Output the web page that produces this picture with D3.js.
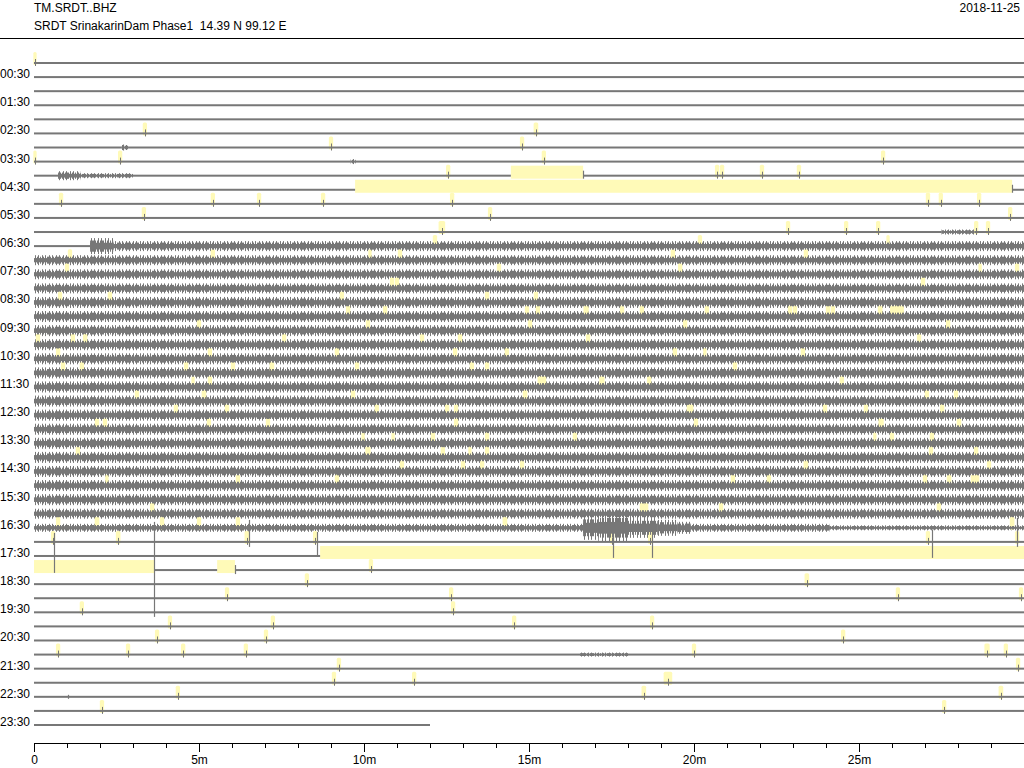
<!DOCTYPE html>
<html><head><meta charset="utf-8">
<script src="https://cdn.jsdelivr.net/npm/d3@7/dist/d3.min.js"></script>
<style>
body{margin:0;background:#fff}
text{font-family:"Liberation Sans",Arial,Helvetica,sans-serif;font-size:12px;fill:#000}
</style>
</head><body>
<svg id="c" width="1024" height="768"></svg>
<script>
// ---------- DATA ----------
const stationId = "TM.SRDT..BHZ";
const subtitle = "SRDT SrinakarinDam Phase1  14.39 N 99.12 E";
const dateLabel = "2018-11-25";
const rowLabels = ["00:30","01:30","02:30","03:30","04:30","05:30","06:30","07:30","08:30","09:30","10:30","11:30",
  "12:30","13:30","14:30","15:30","16:30","17:30","18:30","19:30","20:30","21:30","22:30","23:30"];
const xMajorTicks = [0,5,10,15,20,25];
const xTickLabels = ["0","5m","10m","15m","20m","25m"];
// base noise half-amplitude for each of the 48 half-hour rows
const baseAmp = [1,1,1,1,1,1,1,1,1,1,1,1,1,5,5,5,5,5.5,5.5,5.5,5.5,5.5,5.5,5.5,5.5,5.5,5.5,5.5,5.5,5.5,5.5,5.5,5,4,1,1,1,1,1,1,1,1,1,1,1,1,1,1];
// [row, startMin, endMin, halfAmplitude]
const ampSegments = [
  [6,2.64,2.85,2.5],[7,9.6,9.75,2.5],
  [8,0.73,1.4,4.5],[8,1.4,3.0,2.5],
  [12,27.5,28.5,2.5],
  [13,0,1.7,1],[13,1.7,2.4,8],
  [33,16.64,17.1,12],[33,17.1,18.0,14],[33,18.0,18.9,10],[33,18.9,19.5,8],[33,19.5,19.9,6],
  [33,19.9,24.1,4],[33,24.1,30,2.5],
  [42,16.55,18.0,2]
];
// [row, endMin] rows that stop early
const traceEnds = [[47,12.0]];
// data gaps [row, startMin, endMin]
const gaps = [[8,14.45,16.64],[9,9.73,29.64],[35,8.67,30],[36,0,3.64],[36,5.55,6.09]];
// event picks [row, minute, widthMin]
const picks = [
  [0,0.03,0.1],
  [5,3.36,0.13],[5,15.21,0.14],
  [6,9.0,0.13],[6,14.79,0.13],
  [7,0.03,0.1],[7,2.61,0.13],[7,15.45,0.13],[7,25.73,0.13],
  [8,12.55,0.13],[8,20.70,0.13],[8,20.85,0.13],[8,22.06,0.13],[8,23.18,0.13],
  [10,0.82,0.13],[10,5.42,0.13],[10,6.82,0.13],[10,8.76,0.13],[10,12.67,0.13],[10,27.09,0.13],[10,27.48,0.13],[10,28.64,0.13],
  [11,3.33,0.13],[11,13.82,0.13],[11,29.58,0.13],
  [12,12.36,0.2],[12,22.85,0.13],[12,24.61,0.13],[12,25.58,0.13],[12,28.55,0.13],[12,28.91,0.13],
  [13,12.15,0.13],[13,20.18,0.13],[13,25.88,0.1],
  [14,1.09,0.13],[14,5.42,0.13],[14,10.18,0.1],[14,11.09,0.13],[14,19.36,0.13],[14,23.39,0.13],
  [15,1.0,0.13],[15,14.09,0.13],[15,19.58,0.13],[15,28.67,0.1],[15,29.79,0.13],
  [16,10.85,0.13],[16,11.0,0.13],[16,26.94,0.13],
  [17,0.79,0.13],[17,2.30,0.13],[17,9.33,0.13],[17,13.73,0.13],[17,15.21,0.13],
  [18,9.52,0.13],[18,10.64,0.13],[18,14.94,0.13],[18,15.27,0.13],[18,16.73,0.16],[18,17.82,0.13],[18,18.42,0.13],[18,20.39,0.13],
  [18,22.91,0.13],[18,23.06,0.13],[18,24.06,0.13],[18,24.21,0.13],[18,25.64,0.14],[18,26.15,0.42],
  [19,5.0,0.13],[19,10.12,0.13],[19,15.03,0.13],[19,19.73,0.13],[19,27.7,0.13],
  [20,0.12,0.13],[20,1.18,0.13],[20,1.55,0.13],[20,7.58,0.13],[20,11.76,0.13],[20,12.91,0.13],[20,16.79,0.13],[20,26.82,0.13],
  [21,0.73,0.13],[21,5.33,0.13],[21,9.18,0.13],[21,12.76,0.13],[21,14.33,0.13],[21,19.42,0.13],[21,20.33,0.1],[21,23.3,0.13],
  [22,0.88,0.13],[22,1.45,0.13],[22,4.61,0.13],[22,6.03,0.13],[22,7.21,0.14],[22,9.79,0.13],[22,13.27,0.13],[22,13.73,0.13],[22,21.24,0.13],
  [23,4.82,0.1],[23,5.33,0.13],[23,15.39,0.26],[23,17.21,0.16],[23,18.64,0.13],[23,24.48,0.13],
  [24,3.12,0.13],[24,5.15,0.14],[24,9.67,0.13],[24,14.88,0.14],[24,27.06,0.13],[24,27.94,0.13],
  [25,4.30,0.13],[25,5.85,0.13],[25,10.39,0.13],[25,12.52,0.13],[25,12.79,0.13],[25,19.88,0.2],[25,23.97,0.13],[25,25.21,0.13],[25,27.52,0.13],
  [26,1.91,0.13],[26,2.15,0.13],[26,5.30,0.13],[26,7.09,0.13],[26,12.79,0.13],[26,20.06,0.13],[26,25.67,0.16],[26,28.03,0.14],
  [27,9.97,0.1],[27,10.88,0.1],[27,12.09,0.13],[27,13.73,0.13],[27,16.39,0.13],[27,25.48,0.1],[27,26.0,0.13],[27,27.21,0.13],
  [28,1.33,0.13],[28,10.12,0.16],[28,12.39,0.13],[28,13.21,0.1],[28,13.73,0.13],[28,27.18,0.13],[28,28.55,0.13],
  [29,11.15,0.13],[29,13.0,0.13],[29,13.58,0.13],[29,14.79,0.13],[29,23.39,0.14],[29,28.94,0.13],
  [30,2.21,0.1],[30,6.18,0.13],[30,9.18,0.13],[30,21.18,0.13],[30,22.27,0.13],[30,27.0,0.13],[30,27.73,0.14],[30,28.45,0.13],[30,28.58,0.13],
  [32,3.58,0.13],[32,18.42,0.13],[32,18.55,0.13],[32,20.82,0.13],[32,27.42,0.13],
  [33,0.73,0.13],[33,1.91,0.14],[33,3.88,0.13],[33,5.0,0.13],[33,6.18,0.13],[33,14.27,0.14],[33,29.64,0.14],
  [34,0.58,0.13],[34,2.55,0.14],[34,6.45,0.14],[34,8.52,0.13],[34,17.52,0.13],[34,18.67,0.13],[34,27.09,0.13],[34,29.79,0.13],
  [36,10.21,0.13],
  [37,8.27,0.13],[37,23.42,0.14],
  [38,5.85,0.13],[38,12.64,0.13],[38,26.18,0.13],[38,29.91,0.13],
  [39,1.45,0.13],[39,12.70,0.13],
  [40,4.12,0.13],[40,7.24,0.13],[40,14.55,0.13],[40,18.73,0.13],
  [41,3.73,0.13],[41,7.03,0.13],[41,24.52,0.13],
  [42,0.73,0.13],[42,2.85,0.13],[42,4.52,0.13],[42,6.42,0.13],[42,20.0,0.13],[42,28.88,0.16],[42,29.45,0.13],
  [43,9.24,0.13],[43,29.82,0.13],
  [44,9.09,0.13],[44,11.52,0.13],[44,19.21,0.26],
  [45,4.36,0.13],[45,18.48,0.14],[45,29.3,0.14],
  [46,2.06,0.13],[46,27.58,0.13]
];
// large glitches [row, minute, top, bottom] (amplitude units, negative = up)
const spikes = [
  [34,0.61,-9,31],[34,3.64,-20,75],[34,6.52,-22,5],[34,8.58,-10,15],
  [34,17.55,-12,16],[34,18.73,-12,16],[34,27.21,-12,16],[34,29.79,-24,5],
  [8,16.64,-5,3],[9,29.64,-5,3],[36,6.09,-5,4],[45,1.03,-2,2],[6,2.7,-3,3]
];

// ---------- SCALES ----------
const svg = d3.select("#c");
const x = d3.scaleLinear().domain([0,30]).range([34,1024]);
const y = d3.scaleLinear().domain([0,47]).range([63,725]);
const a = d3.scaleLinear().domain([0,10]).range([0,10]);
const traceColor = "#777777", yellow = "#fffab8";

// textures for the dense waveform envelope
const defs = svg.append("defs");
const pOuter = defs.append("pattern").attr("id","pOuter").attr("width",7).attr("height",40).attr("patternUnits","userSpaceOnUse");
[0,3].forEach(px=>pOuter.append("rect").attr("x",px).attr("width",1).attr("height",40).attr("fill",traceColor));
const pMid = defs.append("pattern").attr("id","pMid").attr("width",5).attr("height",40).attr("patternUnits","userSpaceOnUse");
[0,2,3].forEach(px=>pMid.append("rect").attr("x",px).attr("width",1).attr("height",40).attr("fill",traceColor));

// header
svg.append("text").attr("x",34).attr("y",12).text(stationId);
svg.append("text").attr("x",34).attr("y",30).attr("xml:space","preserve").text(subtitle);
svg.append("text").attr("x",1020).attr("y",12).attr("text-anchor","end").text(dateLabel);
svg.append("line").attr("x1",0).attr("x2",1024).attr("y1",38.5).attr("y2",38.5).attr("stroke","#000");

// trace segments
function rowSegments(r){
  const te = traceEnds.find(d=>d[0]===r);
  const end = te ? te[1] : 30;
  const segs = ampSegments.filter(d=>d[0]===r);
  const gs = gaps.filter(g=>g[0]===r);
  let cuts=[0,end];
  segs.forEach(d=>cuts.push(d[1],d[2]));
  gs.forEach(g=>cuts.push(g[1],g[2]));
  cuts = Array.from(new Set(cuts.filter(c=>c>=0&&c<=end))).sort((p,q)=>p-q);
  const out=[];
  for(let k=0;k<cuts.length-1;k++){
    const s0=cuts[k], s1=cuts[k+1], m=(s0+s1)/2;
    if(gs.some(g=>m>g[1]&&m<g[2])) continue;
    const s = segs.find(d=>m>d[1]&&m<d[2]);
    out.push({r, s0, s1, amp: s ? s[3] : baseAmp[r]});
  }
  return out;
}
const allSegs = d3.range(48).flatMap(rowSegments);
const noisy = allSegs.filter(d=>d.amp>1.5);
const coreH = d=> d.amp>1.5 ? Math.max(1,d.amp*0.42) : 1;

// yellow gap blocks (behind everything)
svg.append("g").selectAll("rect").data(gaps).join("rect")
  .attr("x",d=>x(d[1])).attr("width",d=>x(d[2])-x(d[1]))
  .attr("y",d=>y(d[0])-10).attr("height",13).attr("fill",yellow);

// outer envelope texture
svg.append("g").selectAll("rect").data(noisy).join("rect")
  .attr("x",d=>x(d.s0)).attr("width",d=>x(d.s1)-x(d.s0))
  .attr("y",d=>y(d.r)-a(d.amp)).attr("height",d=>2*a(d.amp)).attr("fill","url(#pOuter)");

// picks
svg.append("g").selectAll("rect").data(picks).join("rect")
  .attr("x",d=>x(d[1]-d[2]/2)).attr("width",d=>Math.max(2.5,x(d[2])-x(0)))
  .attr("y",d=>y(d[0])-11).attr("height",13).attr("rx",1.5).attr("fill",yellow);

// mid envelope texture
svg.append("g").selectAll("rect").data(noisy).join("rect")
  .attr("x",d=>x(d.s0)).attr("width",d=>x(d.s1)-x(d.s0))
  .attr("y",d=>y(d.r)-a(d.amp*0.7)).attr("height",d=>2*a(d.amp*0.7)).attr("fill","url(#pMid)");

// solid core
svg.append("g").selectAll("rect").data(allSegs).join("rect")
  .attr("x",d=>x(d.s0)).attr("width",d=>x(d.s1)-x(d.s0))
  .attr("y",d=>y(d.r)-a(coreH(d))).attr("height",d=>2*a(coreH(d))).attr("fill",traceColor);

// pick ticks on quiet traces and glitches
svg.append("g").selectAll("line").data(picks.filter(p=>baseAmp[p[0]]<=1)).join("line")
  .attr("x1",d=>Math.round(x(d[1]))+0.5).attr("x2",d=>Math.round(x(d[1]))+0.5)
  .attr("y1",d=>y(d[0])-a(4)).attr("y2",d=>y(d[0])+a(3)).attr("stroke",traceColor);
svg.append("g").selectAll("line").data(spikes).join("line")
  .attr("x1",d=>Math.round(x(d[1]))+0.5).attr("x2",d=>Math.round(x(d[1]))+0.5)
  .attr("y1",d=>y(d[0])+a(d[2])).attr("y2",d=>y(d[0])+a(d[3])).attr("stroke",traceColor).attr("stroke-width",1.2);

// row labels
svg.append("g").selectAll("text").data(rowLabels).join("text")
  .attr("x",0).attr("y",(d,i)=>y(2*i+1)+1).text(d=>d);

// x axis
const axisY = 743;
const gMinor = svg.append("g").attr("transform",`translate(0,${axisY})`)
  .call(d3.axisBottom(x).tickValues(d3.range(0,30,1)).tickSize(5).tickFormat("").tickSizeOuter(0));
gMinor.select(".domain").attr("stroke","#000");
const gMajor = svg.append("g").attr("transform",`translate(0,${axisY})`)
  .call(d3.axisBottom(x).tickValues(xMajorTicks).tickSize(9).tickSizeOuter(0)
    .tickFormat((d,i)=>xTickLabels[i]));
gMajor.select(".domain").remove();
gMajor.selectAll("text").style("font-size","12px").style("font-family","'Liberation Sans',Arial,sans-serif");
svg.selectAll(".tick line").attr("stroke","#000");
</script>
</body></html>
